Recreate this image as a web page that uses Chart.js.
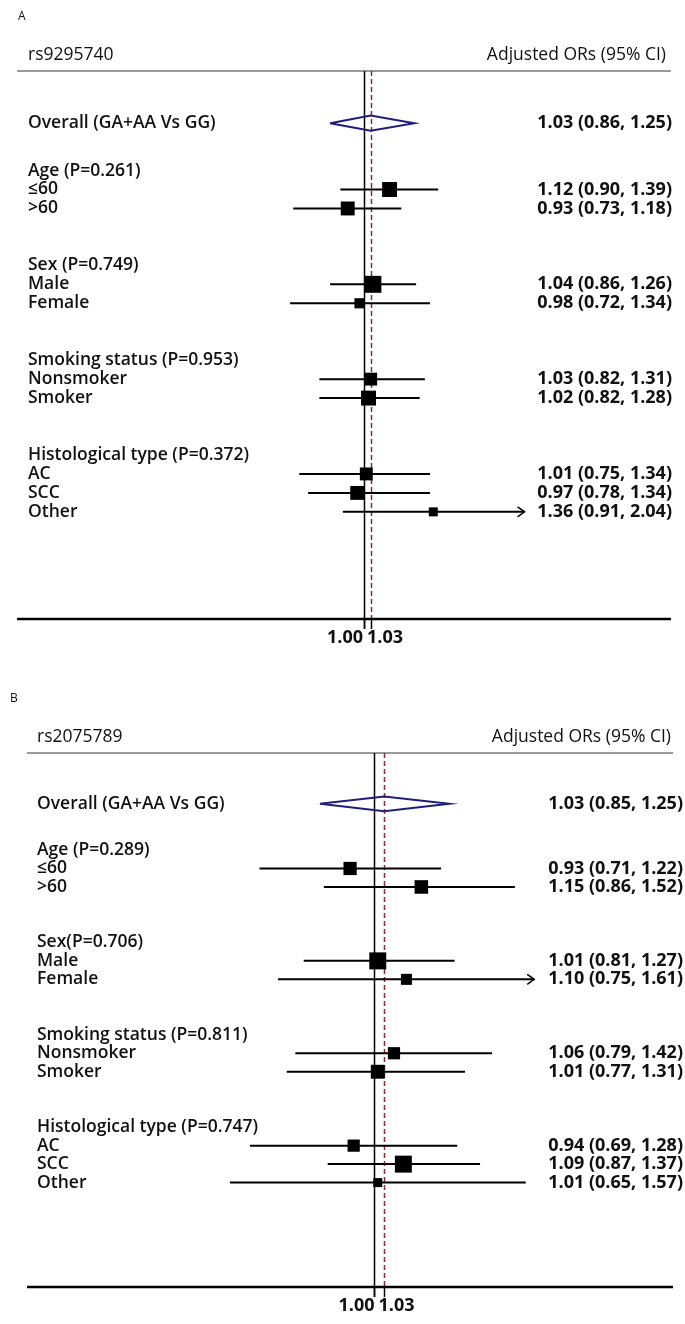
<!DOCTYPE html>
<html>
<head>
<meta charset="utf-8">
<script src="https://cdn.jsdelivr.net/npm/chart.js@4.4.1/dist/chart.umd.min.js"></script>
<style>
  body { margin: 0; background: #fff; }
  .panel { position: relative; width: 685px; height: 662px; }
</style>
</head>
<body>
<div class="panel"><canvas id="chartA"></canvas></div>
<div class="panel"><canvas id="chartB"></canvas></div>
<script>
// shared row structure
const subgroups = ['≤60', '>60', 'Male', 'Female', 'Nonsmoker', 'Smoker', 'AC', 'SCC', 'Other'];
const groupSizes = [2, 2, 2, 3];
const overallLabel = 'Overall (GA+AA Vs GG)';
const refTicks = [1.00, 1.03];

// panel A - rs9295740
const groupsA = ['Age (P=0.261)', 'Sex (P=0.749)', 'Smoking status (P=0.953)', 'Histological type (P=0.372)'];
const overallA = [1.03, 0.86, 1.25];
const orA = [1.12, 0.93, 1.04, 0.98, 1.03, 1.02, 1.01, 0.97, 1.36];
const lowA = [0.90, 0.73, 0.86, 0.72, 0.82, 0.82, 0.75, 0.78, 0.91];
const highA = [1.39, 1.18, 1.26, 1.34, 1.31, 1.28, 1.34, 1.34, 2.04];
const weightA = [0.88, 0.82, 1, 0.6, 0.76, 0.88, 0.76, 0.82, 0.53];
const arrowA = [false, false, false, false, false, false, false, false, true];

// panel B - rs2075789
const groupsB = ['Age (P=0.289)', 'Sex(P=0.706)', 'Smoking status (P=0.811)', 'Histological type (P=0.747)'];
const overallB = [1.03, 0.85, 1.25];
const orB = [0.93, 1.15, 1.01, 1.10, 1.06, 1.01, 0.94, 1.09, 1.01];
const lowB = [0.71, 0.86, 0.81, 0.75, 0.79, 0.77, 0.69, 0.87, 0.65];
const highB = [1.22, 1.52, 1.27, 1.61, 1.42, 1.31, 1.28, 1.37, 1.57];
const weightB = [0.78, 0.8, 1, 0.65, 0.72, 0.82, 0.72, 1, 0.53];
const arrowB = [false, false, false, true, false, false, false, false, false];

const FONT = '"Open Sans", "Liberation Sans", sans-serif';
const DIAMOND_H = 0.4;

function fmt(v) { return v.toFixed(2); }

// overall on row 0, then each group: header row + items, two blank rows between groups
function layoutRows(groups) {
  const rows = [];
  let r = 2.5, k = 0;
  groups.forEach((g, gi) => {
    rows.push({ text: g, y: r });
    r++;
    for (let j = 0; j < groupSizes[gi]; j++) {
      rows.push({ text: subgroups[k], idx: k, y: r });
      k++; r++;
    }
    r += 2;
  });
  return rows;
}

function makePanel(id, p) {
  const rows = layoutRows(p.groups);
  const items = rows.filter(r => r.idx !== undefined);
  const itemY = items.map(r => r.y);
  const [est, lo, hi] = p.overall;

  const datasets = [];
  p.or.forEach((v, i) => {
    datasets.push({
      data: [{ x: p.low[i], y: itemY[i] }, { x: p.high[i], y: itemY[i] }],
      showLine: true, borderColor: '#000', borderWidth: 2, pointRadius: 0
    });
  });
  datasets.push({
    data: p.or.map((v, i) => ({ x: v, y: itemY[i] })),
    pointStyle: 'rect',
    pointRadius: p.weight.map(w => w * 12),
    backgroundColor: '#000', borderWidth: 0, showLine: false
  });
  datasets.push({
    data: [{ x: lo, y: 0 }, { x: est, y: -DIAMOND_H }, { x: hi, y: 0 }, { x: est, y: DIAMOND_H }, { x: lo, y: 0 }],
    showLine: true, borderColor: '#1f1f7a', borderWidth: 2, pointRadius: 0, fill: false
  });

  const deco = {
    id: 'forestDeco',
    beforeDatasetsDraw(chart) {
      const { ctx, chartArea: a, scales: { x } } = chart;
      ctx.save();
      // header rule
      ctx.strokeStyle = '#9a9a9a';
      ctx.lineWidth = 2;
      ctx.beginPath(); ctx.moveTo(a.left, a.top); ctx.lineTo(a.right, a.top); ctx.stroke();
      // no-effect line
      const x1 = Math.round(x.getPixelForValue(refTicks[0])) + 0.5;
      ctx.strokeStyle = '#000';
      ctx.lineWidth = 1.5;
      ctx.beginPath(); ctx.moveTo(x1, a.top); ctx.lineTo(x1, a.bottom + 10); ctx.stroke();
      // overall estimate line
      const xe = Math.round(x.getPixelForValue(est)) + 0.5;
      ctx.strokeStyle = '#8b2c2c';
      ctx.setLineDash([5, 3]);
      ctx.beginPath(); ctx.moveTo(xe, a.top); ctx.lineTo(xe, a.bottom); ctx.stroke();
      ctx.setLineDash([]);
      ctx.restore();
    },
    afterDatasetsDraw(chart) {
      const { ctx, chartArea: a, scales: { x, y } } = chart;
      ctx.save();
      // arrows for truncated intervals
      ctx.strokeStyle = '#000';
      ctx.lineWidth = 1.5;
      p.arrow.forEach((f, i) => {
        if (!f) return;
        const ax = x.getPixelForValue(p.high[i]), ay = y.getPixelForValue(itemY[i]);
        ctx.beginPath();
        ctx.moveTo(ax - 7, ay - 5); ctx.lineTo(ax, ay); ctx.lineTo(ax - 7, ay + 5);
        ctx.stroke();
      });
      // x axis line and ticks
      ctx.lineWidth = 2.5;
      ctx.beginPath(); ctx.moveTo(a.left, a.bottom); ctx.lineTo(a.right, a.bottom); ctx.stroke();
      ctx.lineWidth = 1.5;
      const tp = refTicks.map(t => Math.round(x.getPixelForValue(t)) + 0.5);
      tp.forEach(t => { ctx.beginPath(); ctx.moveTo(t, a.bottom); ctx.lineTo(t, a.bottom + 10); ctx.stroke(); });
      ctx.fillStyle = '#111';
      ctx.font = 'bold 18px ' + FONT;
      ctx.textBaseline = 'middle';
      const mid = (tp[0] + tp[1]) / 2 - 3;
      ctx.textAlign = 'right';
      ctx.fillText(fmt(refTicks[0]), mid - 2, a.bottom + 19);
      ctx.textAlign = 'left';
      ctx.fillText(fmt(refTicks[1]), mid + 2, a.bottom + 19);

      // panel letter and header
      ctx.font = '12px ' + FONT;
      ctx.textAlign = 'left';
      ctx.fillText(p.letter, p.letterX, a.top - 54);
      ctx.font = '17.5px ' + FONT;
      ctx.fillText(p.snp, p.textLeft, a.top - 16);
      ctx.textAlign = 'right';
      ctx.fillText('Adjusted ORs (95% CI)', p.headRight, a.top - 16);

      // row labels
      ctx.textAlign = 'left';
      ctx.font = '600 17.5px ' + FONT;
      ctx.fillText(overallLabel, p.textLeft, y.getPixelForValue(0));
      rows.forEach(r => ctx.fillText(r.text, p.textLeft, y.getPixelForValue(r.y)));

      // estimates
      ctx.textAlign = 'right';
      ctx.font = 'bold 18px ' + FONT;
      ctx.fillText(fmt(est) + ' (' + fmt(lo) + ', ' + fmt(hi) + ')', p.valueRight, y.getPixelForValue(0));
      p.or.forEach((v, i) => {
        ctx.fillText(fmt(v) + ' (' + fmt(p.low[i]) + ', ' + fmt(p.high[i]) + ')', p.valueRight, y.getPixelForValue(itemY[i]));
      });
      ctx.restore();
    }
  };

  return new Chart(document.getElementById(id), {
    type: 'scatter',
    data: { datasets },
    options: {
      responsive: true,
      maintainAspectRatio: false,
      animation: false,
      devicePixelRatio: 1,
      events: [],
      layout: { padding: p.padding },
      plugins: { legend: { display: false }, tooltip: { enabled: false } },
      scales: {
        x: { type: 'logarithmic', min: p.xMin, max: p.xMax, display: false },
        y: { type: 'linear', min: -2.75, max: 26.15, reverse: true, display: false }
      }
    },
    plugins: [deco]
  });
}

makePanel('chartA', {
  letter: 'A', snp: 'rs9295740', groups: groupsA, overall: overallA,
  or: orA, low: lowA, high: highA, weight: weightA, arrow: arrowA,
  xMin: 0.214, xMax: 3.91,
  padding: { left: 17, right: 14, top: 71, bottom: 43 },
  letterX: 18, textLeft: 28, headRight: 666, valueRight: 672
});

makePanel('chartB', {
  letter: 'B', snp: 'rs2075789', groups: groupsB, overall: overallB,
  or: orB, low: lowB, high: highB, weight: weightB, arrow: arrowB,
  xMin: 0.355, xMax: 2.435,
  padding: { left: 27, right: 11, top: 91, bottom: 37 },
  letterX: 10, textLeft: 37, headRight: 671, valueRight: 683
});
</script>
</body>
</html>
